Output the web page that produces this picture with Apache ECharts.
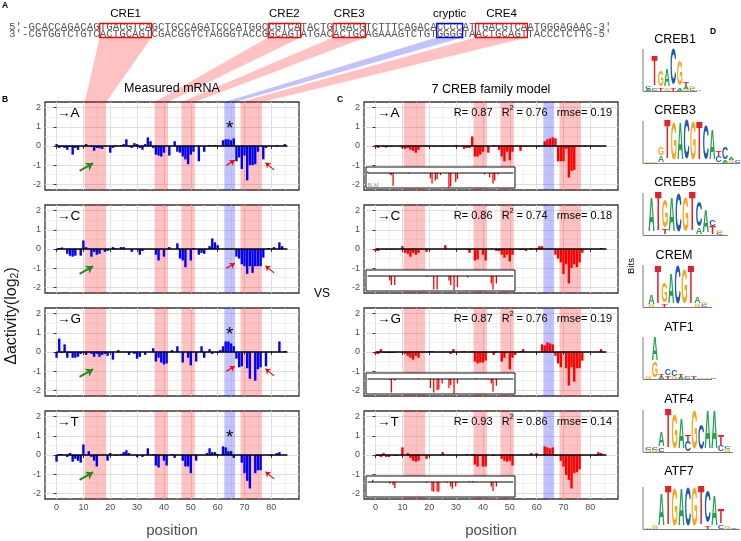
<!DOCTYPE html>
<html>
<head>
<meta charset="utf-8">
<title>CREB sites: measured vs model</title>
<script src="https://cdn.jsdelivr.net/npm/echarts@6.0.0/dist/echarts.min.js"></script>
<style>
html, body { margin: 0; padding: 0; background: #fff; }
#fig { width: 741px; height: 541px; }
</style>
</head>
<body>
<div id="fig"></div>
<script>
// promoter positions 0..86 (x of every panel)
const positions = Array.from({length: 87}, (_, i) => i);
const xTicks = [0, 10, 20, 30, 40, 50, 60, 70, 80];
const xMinor = [5, 15, 25, 35, 45, 55, 65, 75, 85];
const yTicks = [-2, -1, 0, 1, 2];
const yMinor = [-1.5, -0.5, 0.5, 1.5];
const creBands = [[10.5, 18.5], [36.5, 41.5], [46.5, 51.5], [68.5, 76.5]];
const crypticBand = [62.5, 66.5];
const mutBases = ['A', 'C', 'G', 'T'];
const modelR = ['0.87', '0.86', '0.87', '0.93'];
const modelR2 = ['0.76', '0.74', '0.76', '0.86'];
const modelRmse = ['0.19', '0.18', '0.19', '0.14'];
const topStrand = "5'-GCACCAGACAGTGACGTCAGCTGCCAGATCCCATGGCCGTCATACTGTGACGTCTTTCAGACACCCCATTGACGTCAATGGGAGAAC-3'";
const bottomStrand = "3'-CGTGGTCTGTCACTGCAGTCGACGGTCTAGGGTACCGGCAGTATGACACTGCAGAAAGTCTGTGGGGTAACTGCAGTTACCCTCTTG-5'";

// measured mRNA, log2 change per position
const measuredA = [
  0.1, -0.1, -0.05, -0.1, -0.2, -0.05, -0.45, -0.1, -0.2, 0,
  0, 0.1, 0, -0.05, -0.25, -0.1, -0.12, -0.15, 0, 0,
  -0.35, -0.1, 0.05, 0, 0.05, 0.1, 0.35, -0.05, -0.1, 0.15,
  0.1, -0.1, -0.2, 0.1, 0.45, 0.25, -0.1, -0.45, -0.5, -0.55,
  -0.35, 0, -0.5, 0, 0.25, -0.3, -0.35, -0.55, -0.7, -0.95,
  -0.45, -0.3, 0, -0.8, 0, -0.3, 0, 0.05, 0, 0.05,
  0, 0, 0.3, 0.35, 0.35, 0.3, 0.4, -0.8, -0.6, -1.2,
  -0.5, -1.8, -1.0, -1.0, -0.95, -0.3, 0, -0.7, -0.1, 0,
  0, 0, 0.05, 0, 0, 0.1, 0];
const measuredC = [
  -0.05, 0.05, 0.08, 0, -0.25, -0.35, -0.4, -0.35, 0, -0.35,
  0.45, 0.1, 0, -0.4, -0.15, -0.3, -0.25, 0, -0.15, -0.1,
  0, 0.1, 0.05, 0, 0.1, 0.1, 0, 0, -0.15, 0,
  0, -0.3, -0.1, 0, 0, 0, 0, -0.3, -0.6, 0,
  -0.4, 0, 0.1, 0, 0, 0.3, -0.5, -0.6, -0.95, 0,
  -0.6, 0.05, 0, -0.3, -0.2, -0.25, 0, 0.15, 0.55, 0.35,
  0.2, 0, 0, 0, 0, 0, 0, -0.4, -0.5, -0.8,
  -0.9, -1.3, -0.9, -1.25, -0.9, -0.9, -0.9, -0.45, 0, 0.05,
  0, 0.1, 0, 0.35, 0.15, 0, 0];
const measuredG = [
  -0.3, 0.7, -0.05, 0.4, -0.3, -0.05, -0.3, -0.3, -0.25, -0.1,
  0, -0.15, 0, -0.1, -0.25, -0.1, -0.25, -0.15, -0.1, -0.2,
  0, -0.4, 0, 0.1, 0, 0, 0, -0.15, 0, -0.1,
  -0.35, -0.25, 0, -0.15, 0, 0, 0.2, -0.5, -0.3, -0.55,
  -0.65, -0.6, 0, 0.1, 0, 0.3, 0, -0.55, 0, -0.3,
  -0.7, 0, -0.5, 0, 0.3, -0.3, 0, 0.15, -0.1, 0,
  -0.05, 0.1, 0.3, 0.55, 0.55, 0.45, 0.3, -0.35, -0.8, -0.75,
  0, -0.85, -1.4, 0, -1.5, -0.9, -0.8, 0, -0.75, 0,
  0, 0, 0, 0.55, 0, 0.05, 0];
const measuredT = [
  -0.35, 0.05, 0.05, 0, -0.1, 0.1, -0.35, -0.2, -0.3, -0.4,
  0.55, 0, 0.2, -0.1, -0.3, -0.6, 0, 0, 0, -0.3,
  0.1, 0, -0.05, 0, 0.05, 0.15, 0.25, 0.1, 0, 0,
  -0.1, 0, -0.1, 0, 0.35, 0, 0.05, -0.55, -0.65, 0,
  -0.3, -0.55, 0, 0.05, -0.15, 0, 0, -0.3, -0.6, -0.6,
  -0.95, 0, -0.3, 0, 0, 0, 0.1, 0.35, 0.15, 0.15,
  0.05, 0, 0.45, 0.4, 0.2, 0.2, -0.15, 0, 0, -0.4,
  -0.95, -1.35, -1.75, 0, -0.95, -0.8, -0.8, 0, 0, 0,
  -0.05, 0, 0.1, 0.15, 0, 0, 0];

// 7 CREB family model predictions
const modelA = [
  0.05, -0.1, 0, -0.05, -0.08, 0, -0.05, 0, 0, 0,
  -0.1, -0.15, -0.1, -0.2, -0.25, -0.35, -0.2, 0, 0, 0.05,
  -0.05, 0, -0.05, 0, 0, -0.05, 0, 0, 0, 0,
  0.05, 0, 0, -0.15, -0.1, -0.1, 0.5, -0.55, -0.55, -0.45,
  -0.3, 0, -0.35, 0, 0.05, 0, -0.2, -0.55, -0.8, -0.3,
  -0.75, -0.3, 0, 0, -0.25, 0, -0.05, 0, 0, 0,
  0, -0.05, 0, 0.25, 0.35, 0.4, 0.45, 0.4, -0.8, -0.8,
  -0.8, -0.15, -1.65, -1.3, -1.25, 0, 0, 0, -0.05, 0,
  0, 0, 0, 0, 0, 0, 0];
const modelC = [
  -0.1, -0.1, 0, 0, -0.05, 0, -0.05, 0, 0, 0,
  0.15, -0.2, -0.25, -0.4, -0.2, -0.3, -0.2, 0, 0, -0.15,
  0, 0, 0, 0, 0, 0, 0.2, 0, 0, 0,
  0, 0, 0, 0, -0.05, -0.2, 0, -0.6, -0.55, 0,
  -0.3, -0.6, 0, 0, 0, -0.1, -0.1, -0.3, -0.45, -0.3,
  -0.65, -0.3, 0, 0, -0.05, -0.05, -0.1, 0, 0.05, 0,
  0.05, 0.15, 0.15, 0, 0, 0, 0, -0.3, -0.5, -0.7,
  -1.3, -0.8, -1.8, -1.0, -0.8, -0.95, -0.7, -0.2, 0, 0,
  0, 0, 0, 0, 0.05, 0, 0];
const modelG = [
  -0.1, -0.1, 0.15, -0.05, -0.05, -0.05, -0.05, -0.05, 0, 0,
  0, -0.1, -0.2, -0.3, -0.4, -0.2, -0.3, 0, 0, 0,
  0.05, 0.05, 0, 0, 0, 0, 0, 0, -0.1, 0.15,
  0, 0, 0, 0.05, 0, 0, 0.05, -0.5, -0.6, -0.55,
  -0.55, -0.45, 0, 0, -0.15, 0.05, 0, -0.5, -0.3, 0,
  -0.9, -0.3, -0.15, 0, 0.05, 0.15, 0, 0, 0, 0,
  0, 0, 0.4, 0.35, 0.5, 0.45, 0.4, -0.2, -0.6, -0.8,
  0, -0.85, -1.75, -0.8, -1.55, -0.85, -0.85, -0.45, 0, 0,
  0, 0, 0, 0, 0.15, 0, 0];
const modelT = [
  -0.05, -0.05, -0.1, 0.1, -0.1, -0.1, 0, -0.05, -0.05, 0,
  0.4, 0, 0.1, -0.15, -0.3, -0.35, -0.3, 0, 0, -0.2,
  0, 0, 0, 0, 0, 0.15, 0, 0, 0, 0,
  0, 0, 0, 0, 0.05, 0, 0.05, -0.5, -0.6, -0.05,
  -0.6, -0.6, 0, 0, -0.05, 0, 0, -0.2, -0.3, -0.35,
  -0.3, -0.55, 0, 0, 0, 0, 0, 0, 0.1, 0,
  0.1, 0, 0, 0.45, 0.4, 0.35, 0.4, -0.05, 0, -0.3,
  -0.6, -1.05, -1.3, -1.75, -0.95, -0.9, -0.75, 0, 0, 0,
  0, 0, -0.05, 0.15, 0.1, 0, 0];

// small inset tracks in the model panels
const insetA = [
  0.1, 0, 0, 0, 0, 0, 0, 0, 0, 0,
  0, 0, 0, -0.1, -0.15, -0.85, 0, 0, 0, 0,
  0, 0, 0, 0, -0.05, 0, 0, 0, 0, 0,
  0, 0, 0, 0, 0, 0, 0, -0.35, -0.7, 0,
  -0.5, -0.4, 0, -0.15, 0, 0, 0, 0, -1.0, -0.9,
  0, 0, -0.6, -0.4, 0, 0, 0, 0, 0, 0,
  0, 0, 0, 0, 0, 0, 0, 0, 0, -0.1,
  0, 0, -0.3, 0, -0.7, -0.5, 0, -0.1, 0, 0,
  0, 0, 0, 0, 0, 0, 0];
const insetC = [
  0, 0, 0, 0, 0, 0, 0, 0, 0, 0,
  0, 0, 0, -0.3, -0.6, 0, -0.6, 0, 0, 0,
  0, 0, 0, 0, 0, 0, 0, 0, 0, 0,
  0, 0, 0, 0, 0, -0.05, 0, 0, 0, -0.9,
  0, -0.9, 0, 0, 0, 0, 0, 0, -0.3, -0.6,
  0, -0.95, 0, -0.75, 0, 0, 0, 0, 0, -0.1,
  0, 0, 0, 0, 0, 0, 0, 0, 0, 0,
  0, 0, 0, -0.5, -0.9, 0, -0.5, 0, 0, 0,
  0, 0, 0, 0, 0, 0, 0];
const insetG = [
  0, 0, 0, 0, 0, 0, 0, 0, 0, 0,
  0, 0, 0, -0.05, -0.9, 0, -0.1, 0, 0, 0,
  0, 0, 0, 0, 0, 0, 0, 0, 0, 0,
  0.05, 0, 0, 0, 0, 0, 0, -0.6, 0, -0.9,
  0, -0.75, -0.7, 0, -0.3, 0, 0, 0, -0.6, -0.4,
  0, -1.0, 0, -0.3, 0, 0, 0, 0, 0, 0,
  0, 0, 0, 0, 0.05, 0, 0, 0, 0, 0,
  0, 0.05, 0, -0.3, -0.85, 0, -0.45, 0, 0, 0,
  0, 0, 0, 0, 0, 0, 0];
const insetT = [
  0, 0, 0, 0.15, 0, 0, 0, 0, 0, 0,
  0, 0, 0, -0.1, 0, -0.2, -0.4, 0, 0, 0,
  0, 0, 0, 0, 0, 0, 0, 0, 0, 0,
  0, 0, 0, 0, 0, -0.05, 0, 0, -0.6, -0.65,
  0, -0.65, -0.65, 0, 0, 0, 0, -0.05, 0, -0.3,
  -0.45, 0, -0.3, -0.05, 0, 0, 0, 0, 0, 0,
  0.05, 0, 0.05, 0, 0, 0, 0, 0, 0, 0,
  0, 0, 0, -0.3, -0.6, 0, -0.3, 0, 0, 0,
  0, 0, 0, 0, 0, 0, 0];

// sequence logos: columns of [base, height in px] stacked bottom-up
const logoCREB1 = [[['A', 2], ['C', 2]], [['C', 2], ['T', 31]], [['T', 3], ['G', 16]], [['G', 3], ['A', 17]], [['T', 3], ['C', 36]],
  [['A', 3], ['G', 25]], [['G', 2], ['A', 3], ['T', 4]], [['C', 2], ['G', 2]], [['A', 1]]];
const logoCREB3 = [[['G', 1]], [['A', 1]], [['A', 7], ['G', 8]], [['T', 40]], [['G', 37]], [['A', 37]], [['C', 40]], [['G', 38]],
  [['T', 38]], [['C', 35]], [['A', 30]], [['C', 6], ['T', 5]], [['A', 3], ['C', 12]], [['G', 3], ['A', 2]], [['C', 2]]];
const logoCREB5 = [[['A', 35]], [['T', 40]], [['T', 5], ['G', 28]], [['A', 35]], [['C', 38]], [['G', 35]], [['T', 40]],
  [['A', 6], ['C', 25]], [['A', 22]], [['T', 8], ['C', 7]], [['C', 2], ['G', 2]]];
const logoCREM = [[['G', 2], ['A', 9]], [['T', 38]], [['T', 3], ['G', 20]], [['A', 30]], [['C', 38]], [['G', 35]], [['T', 38]],
  [['G', 3], ['A', 6]], [['C', 2], ['G', 3]]];
const logoATF1 = [[['G', 3]], [['G', 16], ['A', 24]], [['A', 2], ['T', 3]], [['T', 3], ['C', 7]], [['G', 2], ['C', 7]],
  [['A', 2], ['T', 2]], [['C', 2]], [['T', 2]], [['A', 1]], [['G', 1]], [['C', 1]]];
const logoATF4 = [[['G', 2], ['C', 2]], [['G', 2], ['C', 3]], [['C', 4], ['A', 15]], [['T', 40]], [['G', 35]], [['A', 30]],
  [['C', 10], ['T', 7]], [['G', 38]], [['C', 25]], [['A', 38]], [['A', 38]], [['C', 6], ['T', 10]], [['G', 3], ['C', 3]]];
const logoATF7 = [[['A', 1]], [['A', 1], ['G', 3]], [['A', 32]], [['T', 40]], [['G', 37]], [['A', 37]], [['C', 38]], [['G', 38]],
  [['T', 40]], [['T', 3], ['C', 32]], [['A', 30]], [['C', 4], ['T', 14]], [['G', 2]], [['C', 1]]];

const chart = echarts.init(document.getElementById('fig'));
const FONT = '"Liberation Sans", Arial, sans-serif';
const panelTops = [102, 205, 308, 411];
const panelH = 88, panelW = 254, leftX = 45, rightX = 364;

const majorLine = {color: '#dedede', width: 1, type: 'solid'};
const minorLine = {color: '#ededed', width: 0.7, type: 'solid'};
const gridLineData = [].concat(
  xTicks.map(v => ({xAxis: v, lineStyle: majorLine})),
  xMinor.map(v => ({xAxis: v, lineStyle: minorLine})),
  yTicks.map(v => ({yAxis: v, lineStyle: majorLine})),
  yMinor.map(v => ({yAxis: v, lineStyle: minorLine}))
);
const bandData = creBands.map(b => [{xAxis: b[0], itemStyle: {color: 'rgba(255,0,0,0.24)'}}, {xAxis: b[1]}])
  .concat([[{xAxis: crypticBand[0], itemStyle: {color: 'rgba(0,0,255,0.24)'}}, {xAxis: crypticBand[1]}]]);

// annotation arrows (data coords)
const greenArrow = [[8.6, -1.3], [13.6, -0.9]];
const redArrowL = [[63.3, -1.0], [66.4, -0.75]];
const redArrowR = [[81, -1.25], [77.8, -0.87]];
const panelArrows = [[greenArrow, redArrowL, redArrowR], [greenArrow, redArrowL, redArrowR],
  [greenArrow, redArrowL, redArrowR], [greenArrow, redArrowR]];
const starPanels = [true, false, true, true];

function pairs(vals) { return vals.map((v, i) => [positions[i], v]); }
function arrowItem(seg, green) {
  return [
    {coord: seg[0], symbol: 'none', lineStyle: {color: green ? '#1e8c1e' : '#ff0000', width: green ? 2 : 1.2, type: 'solid'}},
    {coord: seg[1], symbol: 'arrow', symbolSize: green ? 7 : 5}
  ];
}

const grids = [], xAxes = [], yAxes = [], series = [];

function addPanel(left, top, values, color, showX, arrows, star) {
  const gi = grids.length;
  grids.push({left: left, top: top, width: panelW, height: panelH, show: true,
    borderColor: '#383838', borderWidth: 1.3, backgroundColor: 'transparent'});
  xAxes.push({type: 'value', gridIndex: gi, min: -4.3, max: 90.3,
    axisLine: {show: false}, splitLine: {show: false},
    axisTick: {show: true, length: 3, lineStyle: {color: '#383838'}, customValues: xTicks},
    axisLabel: {show: showX, customValues: xTicks, fontSize: 9, color: '#4d4d4d', margin: 4, fontFamily: FONT}});
  yAxes.push({type: 'value', gridIndex: gi, min: -2.3, max: 2.3,
    axisLine: {show: false}, splitLine: {show: false},
    axisTick: {show: true, length: 3, lineStyle: {color: '#383838'}, customValues: yTicks},
    axisLabel: {customValues: yTicks, fontSize: 9, color: '#4d4d4d', margin: 4, fontFamily: FONT}});
  series.push({type: 'line', xAxisIndex: gi, yAxisIndex: gi, data: [], silent: true,
    markLine: {silent: true, z: 0, symbol: 'none', label: {show: false}, lineStyle: {type: 'solid'}, data: gridLineData},
    markArea: {silent: true, z: 1, label: {show: false}, data: bandData}});
  const bar = {type: 'bar', xAxisIndex: gi, yAxisIndex: gi, data: pairs(values), barWidth: 2.4,
    itemStyle: {color: color}, z: 2, silent: true};
  if (arrows) {
    bar.markLine = {silent: true, z: 5, symbol: ['none', 'arrow'], label: {show: false}, lineStyle: {type: 'solid'},
      data: arrows.map(a => arrowItem(a, a === greenArrow))};
  }
  if (star) {
    bar.markPoint = {silent: true, z: 5, data: [{coord: [64.5, 0.9], symbol: 'circle', symbolSize: 0.1,
      label: {show: true, position: 'inside', formatter: '*', fontSize: 19, color: '#000', fontFamily: FONT}}]};
  }
  series.push(bar);
  series.push({type: 'line', xAxisIndex: gi, yAxisIndex: gi, data: [[0, 0], [86, 0]], symbol: 'none', silent: true,
    lineStyle: {color: '#000', width: 1.4}, z: 3});
}

function addInset(top, values) {
  const gi = grids.length;
  grids.push({left: 366, top: top, width: 149, height: 21, show: true, z: 10,
    backgroundColor: '#fff', borderColor: '#111', borderWidth: 1});
  xAxes.push({type: 'value', gridIndex: gi, min: -1, max: 87, show: false});
  yAxes.push({type: 'value', gridIndex: gi, min: -1, max: 0.4, show: false});
  series.push({type: 'bar', xAxisIndex: gi, yAxisIndex: gi, data: pairs(values), barWidth: 1.3,
    itemStyle: {color: '#ff0000'}, z: 11, silent: true});
  series.push({type: 'line', xAxisIndex: gi, yAxisIndex: gi, data: [[0, 0], [86, 0]], symbol: 'none', silent: true,
    lineStyle: {color: '#000', width: 1}, z: 12});
}

const measured = [measuredA, measuredC, measuredG, measuredT];
const model = [modelA, modelC, modelG, modelT];
const insets = [insetA, insetC, insetG, insetT];
for (let i = 0; i < 4; i++) addPanel(leftX, panelTops[i], measured[i], '#0000ff', i === 3, panelArrows[i], starPanels[i]);
for (let i = 0; i < 4; i++) addPanel(rightX, panelTops[i], model[i], '#ff0000', i === 3, null, false);
for (let i = 0; i < 4; i++) addInset(panelTops[i] + 65, insets[i]);

chart.setOption({
  animation: false,
  backgroundColor: '#fff',
  grid: grids, xAxis: xAxes, yAxis: yAxes, series: series
});

// ---------- annotations ----------
const g = [];
function txt(x, y, text, size, extra) {
  g.push({type: 'text', x: x, y: y, z: 20, silent: true,
    style: Object.assign({text: text, fontSize: size, fontFamily: FONT, fill: '#000', align: 'center', verticalAlign: 'middle'}, extra || {})});
}

// panel A: sequence with boxed sites, bands leading to panel B
const seqX = 9, seqFont = 10.8, charW = seqFont * 0.6;
const line1Y = 27.5, line2Y = 34, boxTop = 23.5, boxBot = 37.5;
const sites = creBands.slice(0, 3).concat([crypticBand], [creBands[3]]);
const siteLabels = ['CRE1', 'CRE2', 'CRE3', 'cryptic', 'CRE4'];
sites.forEach((b, k) => {
  const isCryptic = k === 3;
  const bx = seqX + (3 + b[0] + 0.5) * charW;
  const bw = (b[1] - b[0]) * charW;
  const p0 = chart.convertToPixel({xAxisIndex: 0}, b[0]);
  const p1 = chart.convertToPixel({xAxisIndex: 0}, b[1]);
  g.push({type: 'polygon', z: 1, silent: true,
    shape: {points: [[bx, boxBot], [bx + bw, boxBot], [p1, panelTops[0]], [p0, panelTops[0]]]},
    style: {fill: isCryptic ? 'rgba(0,0,255,0.24)' : 'rgba(255,0,0,0.24)'}});
  g.push({type: 'rect', z: 21, silent: true, shape: {x: bx, y: boxTop, width: bw, height: boxBot - boxTop},
    style: {fill: 'none', stroke: isCryptic ? '#0000ff' : '#ff0000', lineWidth: 1.3}});
  txt(bx + bw / 2, 14, siteLabels[k], 11.5);
});
[[topStrand, line1Y], [bottomStrand, line2Y]].forEach(([s, y]) => {
  g.push({type: 'text', x: seqX, y: y, z: 20, silent: true,
    style: {text: s, fontSize: seqFont, fontFamily: '"Liberation Mono", monospace', fill: '#555', align: 'left', verticalAlign: 'middle'}});
});

// panel letters and titles
txt(5, 6, 'A', 8.5, {fontWeight: 'bold'});
txt(5, 100, 'B', 8.5, {fontWeight: 'bold'});
txt(340, 100, 'C', 8.5, {fontWeight: 'bold'});
txt(713, 32, 'D', 8.5, {fontWeight: 'bold'});
txt(172, 89, 'Measured mRNA', 12.5);
txt(491, 90, '7 CREB family model', 12.5);

for (let i = 0; i < 4; i++) {
  const t = panelTops[i];
  txt(57, t + 11, '\u2192' + mutBases[i], 13.5, {align: 'left'});
  txt(377, t + 11, '\u2192' + mutBases[i], 13.5, {align: 'left'});
  txt(612, t + 11, 'R= ' + modelR[i] + '   R{s|2} = ' + modelR2[i] + '   rmse= ' + modelRmse[i], 11,
    {align: 'right', rich: {s: {fontSize: 7, fontFamily: FONT, fill: '#000', padding: [0, 0, 9, 0]}}});
}
txt(368, 185, 'B.M', 6, {align: 'left', fill: '#888'});

// axis titles
txt(172, 531, 'position', 15, {fill: '#4d4d4d'});
txt(491, 531, 'position', 15, {fill: '#4d4d4d'});
g.push({type: 'text', x: 12, y: 316, rotation: Math.PI / 2, z: 20, silent: true,
  style: {text: '\u0394activity(log{sub|2})', fontSize: 16, fontFamily: FONT, fill: '#1a1a1a', align: 'center', verticalAlign: 'middle',
    rich: {sub: {fontSize: 10.5, fontFamily: FONT, fill: '#1a1a1a', padding: [7, 0, 0, 0]}}}});
txt(322, 294, 'VS', 12);
g.push({type: 'text', x: 631, y: 266, rotation: Math.PI / 2, z: 20, silent: true,
  style: {text: 'Bits', fontSize: 9.5, fontFamily: FONT, fill: '#000', align: 'center', verticalAlign: 'middle'}});

// panel D: sequence logos
const baseColor = {A: '#1fa24a', C: '#1f5bb3', G: '#f6a81c', T: '#e3202d'};
const glyphW = {A: 7.22, C: 7.22, G: 7.78, T: 6.11};
const capH = 7.2;
const logos = [
  {name: 'CREB1', cols: logoCREB1, titleX: 675, titleY: 40, base: 91, x0: 645, w: 6.3, end: 697},
  {name: 'CREB3', cols: logoCREB3, titleX: 675, titleY: 111, base: 163, x0: 645, w: 6.4, end: 740},
  {name: 'CREB5', cols: logoCREB5, titleX: 675, titleY: 183, base: 235, x0: 648, w: 6.8, end: 728},
  {name: 'CREM', cols: logoCREM, titleX: 674, titleY: 256, base: 307, x0: 648, w: 6.6, end: 712},
  {name: 'ATF1', cols: logoATF1, titleX: 679, titleY: 328, base: 379, x0: 645, w: 6.5, end: 712},
  {name: 'ATF4', cols: logoATF4, titleX: 679, titleY: 400, base: 452, x0: 645, w: 6.6, end: 733},
  {name: 'ATF7', cols: logoATF7, titleX: 679, titleY: 472, base: 529, x0: 645, w: 6.6, end: 740}
];
logos.forEach(L => {
  txt(L.titleX, L.titleY, L.name, 12.5);
  g.push({type: 'line', z: 19, silent: true, shape: {x1: 643, y1: L.base - 42, x2: 643, y2: L.base},
    style: {stroke: '#7a7a7a', lineWidth: 1}});
  g.push({type: 'line', z: 19, silent: true, shape: {x1: 643, y1: L.base + 0.5, x2: L.end, y2: L.base + 0.5},
    style: {stroke: '#7a7a7a', lineWidth: 1}});
  L.cols.forEach((stack, j) => {
    const cx = L.x0 + (j + 0.5) * L.w;
    let y = L.base;
    stack.forEach(([ch, h]) => {
      g.push({type: 'text', x: cx, y: y - h / 2, z: 20, silent: true,
        scaleX: (L.w * 0.96) / glyphW[ch], scaleY: h / capH,
        style: {text: ch, fontSize: 10, fontWeight: 'bold', fontFamily: FONT, fill: baseColor[ch], align: 'center', verticalAlign: 'middle'}});
      y -= h;
    });
  });
});

chart.setOption({graphic: g});
</script>
</body>
</html>
